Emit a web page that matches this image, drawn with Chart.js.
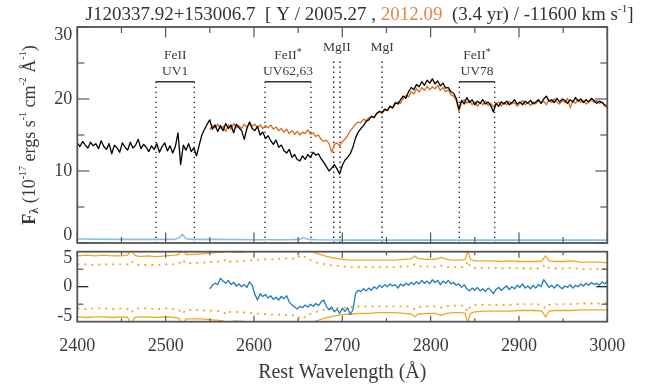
<!DOCTYPE html>
<html>
<head>
<meta charset="utf-8">
<script src="https://cdn.jsdelivr.net/npm/chart.js@4.4.1/dist/chart.umd.min.js"></script>
<style>
  html, body { margin: 0; padding: 0; background: #fff; }
  #wrap { position: relative; width: 650px; height: 386px; overflow: hidden; }
  #wrap canvas { position: absolute; left: 0; }
  #specCanvas { top: 0; }
  #diffCanvas { top: 247px; }
</style>
</head>
<body>
<div id="wrap">
  <canvas id="specCanvas" width="650" height="247" style="width:650px;height:247px"></canvas>
  <canvas id="diffCanvas" width="650" height="139" style="width:650px;height:139px"></canvas>
</div>
<script>
// ---- spectra: 2005.27 epoch (black), sampled every 3 A from 2400 A ----
const fluxStart2005 = 2400, fluxStep = 3;
const flux2005 = [
  13.9,13.4,14.1,13.6,13.2,14.0,13.5,13.8,13.1,14.2,
  13.4,13.0,13.8,12.4,13.6,13.2,12.6,13.9,13.3,12.9,
  14.0,13.2,13.6,14.4,13.1,13.7,13.3,12.7,13.5,13.0,
  13.8,12.6,13.4,13.9,12.8,13.5,12.5,13.4,15.3,10.9,
  13.6,12.9,13.8,12.7,13.2,12.1,13.6,15.0,15.8,16.5,
  17.1,15.8,16.4,15.5,16.3,15.6,16.6,15.9,16.4,15.3,
  16.5,16.0,15.6,14.4,15.9,16.8,15.9,15.6,16.2,15.0,
  15.4,14.5,14.9,14.2,13.7,14.3,13.3,13.6,12.8,12.5,
  13.0,11.9,12.3,11.6,11.4,12.1,11.6,12.3,11.9,12.6,
  12.2,12.4,11.7,11.2,10.6,10.0,10.4,10.9,10.3,9.6,
  10.8,11.5,11.9,12.4,13.3,14.6,15.4,15.9,16.3,16.9,
  17.1,17.6,17.4,18.0,18.3,18.1,18.6,18.4,19.0,18.8,
  19.5,19.3,19.9,20.4,20.1,21.0,21.6,21.3,22.0,21.7,
  22.4,21.9,22.6,22.2,22.8,22.1,22.5,21.8,22.2,21.5,
  21.6,21.0,20.8,20.1,18.6,19.8,19.3,20.2,19.5,19.9,
  19.2,19.7,19.4,19.9,19.3,19.6,19.1,18.2,19.4,19.0,
  19.6,19.3,19.7,19.2,19.5,19.9,19.3,19.6,19.2,19.7,
  19.4,19.8,19.3,19.6,19.9,19.4,20.0,20.4,19.7,19.9,
  19.5,20.1,19.6,20.0,19.8,19.4,19.9,19.6,20.2,19.7,
  20.0,19.5,19.9,19.6,20.1,19.8,19.4,19.7,19.5,19.2,
  19.0
];

// ---- 2012.09 epoch (orange), every 3 A from 2550 A ----
const fluxStart2012 = 2550;
const flux2012 = [
  15.7,16.3,16.0,16.5,15.9,16.2,15.5,16.4,15.8,16.6,
  16.0,16.3,15.9,16.5,16.1,16.7,16.2,16.5,16.0,16.4,
  15.9,16.3,16.0,16.4,15.8,16.1,15.6,15.9,15.4,15.8,
  15.2,15.6,15.1,15.5,15.0,15.4,15.2,15.7,15.1,15.3,
  14.8,15.0,14.4,14.1,14.3,13.8,12.6,13.7,13.9,13.5,
  14.1,14.4,14.9,15.6,16.0,16.5,16.8,16.7,17.2,17.0,
  17.4,17.6,17.5,18.0,18.2,18.0,18.5,18.4,18.9,18.7,
  19.3,19.6,19.4,20.1,20.5,20.3,21.0,20.7,21.4,21.0,
  21.6,21.2,21.8,21.3,21.7,21.4,21.9,21.2,21.6,21.0,
  21.3,20.6,20.4,19.8,18.3,19.5,19.9,19.4,19.8,19.2,
  19.6,19.0,19.5,19.2,19.7,19.1,19.4,18.9,19.3,19.6,
  19.0,19.5,19.2,19.7,19.3,19.5,19.0,19.4,19.8,19.2,
  19.5,19.1,19.6,19.3,19.8,19.4,19.7,19.2,19.9,19.5,
  20.0,19.6,19.3,19.8,19.5,20.1,18.8,19.7,19.4,19.9,
  19.5,19.8,19.3,19.6,19.9,19.5,19.8,19.4,19.6,19.0,
  18.8
];

// ---- flux error near zero (light blue) ----
const errWave = [2400,2450,2500,2510,2515,2519,2523,2530,2560,2600,2640,2652,2656,2660,2670,2720,2800,2900,3000];
const errFlux = [0.55,0.5,0.5,0.5,0.7,1.2,0.6,0.5,0.5,0.45,0.45,0.5,0.75,0.5,0.45,0.4,0.4,0.4,0.4];

// ---- difference spectrum (blue), every 3 A from 2550 A ----
const diffStart = 2550;
const diffFlux = [
  -0.3,0.2,0.5,0.3,1.2,0.8,0.5,0.9,0.3,0.6,
  0.1,0.4,0.0,0.3,-0.1,0.7,0.2,-1.1,-1.9,-1.0,
  -1.4,-1.1,-1.6,-1.3,-1.8,-1.5,-1.9,-1.4,-1.7,-1.3,
  -2.2,-2.6,-2.9,-3.2,-2.8,-3.0,-2.6,-2.9,-2.5,-2.8,
  -2.4,-2.7,-2.2,-1.9,-2.8,-3.3,-2.9,-3.6,-3.2,-3.8,
  -3.1,-3.5,-3.0,-4.0,-3.3,-1.0,-0.5,-0.7,-0.3,-0.6,
  -0.2,-0.5,0.0,-0.3,0.2,-0.1,0.3,0.0,0.4,0.1,
  0.3,-0.2,0.4,0.1,0.5,0.2,0.6,0.3,0.7,0.4,
  0.9,0.5,0.8,0.4,1.0,0.6,0.9,0.3,0.8,0.5,
  0.9,0.4,0.6,0.2,0.4,-0.1,0.3,-0.3,-0.6,-0.2,
  -0.5,-0.1,-0.6,-0.3,-0.7,-0.2,-0.5,-1.0,-0.4,-0.1,
  -0.5,-0.2,0.1,-0.4,0.0,-0.3,0.2,-0.1,0.4,-0.2,
  0.1,-0.3,0.2,-0.2,0.3,0.0,1.0,0.5,-0.1,0.2,
  -0.2,0.3,0.0,-0.3,0.1,-0.1,0.3,-0.2,0.2,0.0,
  0.4,0.1,0.5,0.2,0.6,0.3,0.5,0.2,0.7,0.4,
  0.8
];

// ---- significance envelopes for the difference ----
const bandWave = [
  2400,2410,2420,2430,2440,2450,2457,2461,2465,2470,
  2480,2490,2500,2510,2515,2519,2523,2530,2540,2550,
  2560,2565,2569,2573,2580,2590,2600,2610,2620,2630,
  2640,2646,2650,2654,2658,2662,2670,2680,2690,2700,
  2710,2720,2730,2740,2750,2760,2770,2778,2782,2786,
  2795,2805,2812,2818,2825,2835,2839,2842,2845,2850,
  2860,2870,2880,2890,2900,2910,2920,2926,2930,2934,
  2940,2950,2960,2970,2980,2990,3000
];
const bandHi = [
  4.4,4.5,4.4,4.5,4.4,4.4,4.5,5.3,4.5,4.3,
  4.4,4.3,4.4,4.5,4.6,5.5,4.6,4.6,4.7,4.8,
  4.9,4.9,5.6,5.0,4.9,5.0,5.2,5.3,5.3,5.4,
  5.4,5.5,6.0,5.4,5.9,5.3,4.8,4.4,4.1,3.9,
  3.8,3.8,3.8,3.8,3.8,3.8,3.9,4.0,4.4,4.0,
  3.9,3.9,4.2,3.9,3.8,3.8,3.9,5.1,3.9,3.7,
  3.7,3.7,3.6,3.7,3.6,3.6,3.6,3.7,4.4,3.7,
  3.6,3.6,3.7,3.5,3.5,3.5,3.4
];
const bandHiDot = [
  3.2,3.2,3.1,3.2,3.2,3.2,3.2,3.7,3.2,3.1,
  3.1,3.1,3.2,3.2,3.3,3.9,3.3,3.4,3.4,3.5,
  3.6,3.6,4.0,3.6,3.6,3.7,3.8,3.9,3.9,4.0,
  4.0,4.0,4.4,4.0,4.3,3.9,3.5,3.2,3.0,2.9,
  2.8,2.8,2.8,2.8,2.8,2.8,2.9,2.9,3.2,2.9,
  2.9,2.8,3.0,2.8,2.8,2.8,2.8,3.7,2.8,2.7,
  2.7,2.7,2.6,2.7,2.6,2.6,2.6,2.7,3.2,2.7,
  2.6,2.6,2.7,2.5,2.5,2.5,2.5
];
const bandLoDot = [
  -3.1,-3.2,-3.1,-3.1,-3.2,-3.1,-3.2,-3.7,-3.2,-3.1,
  -3.1,-3.2,-3.1,-3.2,-3.3,-3.9,-3.3,-3.3,-3.4,-3.4,
  -3.5,-3.6,-4.0,-3.6,-3.6,-3.7,-3.8,-3.9,-4.0,-4.0,
  -4.1,-4.1,-4.5,-4.1,-4.4,-4.0,-3.6,-3.3,-3.1,-3.0,
  -2.9,-2.8,-2.8,-2.8,-2.8,-2.8,-2.8,-2.9,-3.2,-2.9,
  -2.8,-2.8,-3.0,-2.8,-2.7,-2.7,-2.8,-3.6,-2.8,-2.6,
  -2.6,-2.6,-2.6,-2.6,-2.5,-2.5,-2.5,-2.6,-3.1,-2.6,
  -2.5,-2.5,-2.5,-2.4,-2.4,-2.4,-2.4
];
const bandLo = [
  -4.3,-4.4,-4.3,-4.3,-4.4,-4.3,-4.4,-5.3,-4.4,-4.3,
  -4.3,-4.4,-4.3,-4.4,-4.5,-5.5,-4.6,-4.6,-4.6,-4.7,
  -4.8,-4.9,-5.6,-5.0,-4.9,-5.0,-5.2,-5.3,-5.4,-5.4,
  -5.5,-5.5,-6.0,-5.5,-6.0,-5.4,-4.9,-4.5,-4.2,-4.0,
  -3.9,-3.8,-3.8,-3.7,-3.7,-3.7,-3.8,-3.9,-4.3,-3.9,
  -3.8,-3.8,-4.1,-3.8,-3.7,-3.7,-3.8,-5.1,-3.8,-3.6,
  -3.5,-3.5,-3.5,-3.5,-3.4,-3.4,-3.4,-3.5,-4.3,-3.5,
  -3.4,-3.4,-3.4,-3.3,-3.3,-3.3,-3.3
];

// ---- absorption-line markers ----
const troughNames = [['FeII', 'UV1'], ['FeII*', 'UV62,63'], ['FeII*', 'UV78']];
const troughEdges = [[2489, 2532.5], [2612.5, 2664.5], [2832.5, 2872.5]];
const troughLevel = 22.4;
const lineNames = ['MgII', 'MgI'];
const lineWaves = [[2690.3, 2697.4], [2745]];
const lineTop = 25.2;

// ---- axis ticks ----
const xRange = [2400, 3000];
const fluxTicks = [0, 10, 20, 30];
const diffTicks = [-5, 0, 5];

const title = { name: 'J120337.92+153006.7', epoch1: '2005.27', epoch2: '2012.09', gap: '3.4 yr', velocity: '-11600' };

// ---------------------------------------------------------------
const SERIF = "'Liberation Serif', 'Times New Roman', Times, serif";
const TEXT = '#3a3a3a';
const FRAME = '#555555';
const ORANGE = '#d96a1c';
const BAND = '#f3a526';
const BLUE = '#1b7bc0';

const sampled = (start, vals) => vals.map((v, i) => ({ x: start + i * fluxStep, y: v }));
const paired = (xs, ys) => xs.map((x, i) => ({ x: x, y: ys[i] }));

function strokeLine(ctx, x1, y1, x2, y2) {
  ctx.beginPath(); ctx.moveTo(x1, y1); ctx.lineTo(x2, y2); ctx.stroke();
}

// draws a run of text pieces (sizes, weights, raised/lowered, colours)
function richText(ctx, parts, x, y, align) {
  let total = 0;
  parts.forEach(p => {
    ctx.font = (p.bold ? 'bold ' : '') + (p.size || 18) + 'px ' + SERIF;
    p.w = ctx.measureText(p.t).width;
    total += p.w;
  });
  let cx = align === 'center' ? x - total / 2 : x;
  ctx.textAlign = 'left';
  ctx.textBaseline = 'alphabetic';
  parts.forEach(p => {
    ctx.font = (p.bold ? 'bold ' : '') + (p.size || 18) + 'px ' + SERIF;
    ctx.fillStyle = p.color || TEXT;
    ctx.fillText(p.t, cx, y + (p.dy || 0));
    cx += p.w;
  });
  return total;
}

// inward tick marks on all four sides plus the frame
function drawFrame(ctx, a, xs, ys, xMajor, xMinor, yTicks) {
  ctx.strokeStyle = FRAME;
  ctx.lineWidth = 1.2;
  for (let w = xRange[0]; w <= xRange[1]; w += 50) {
    const px = xs.getPixelForValue(w);
    const len = w % 100 === 0 ? xMajor : xMinor;
    strokeLine(ctx, px, a.top, px, a.top + len);
    strokeLine(ctx, px, a.bottom, px, a.bottom - len);
  }
  yTicks.forEach(t => {
    const py = ys.getPixelForValue(t.v);
    ctx.strokeStyle = t.color || FRAME;
    strokeLine(ctx, a.left, py, a.left + t.len, py);
    strokeLine(ctx, a.right, py, a.right - t.len, py);
  });
  ctx.strokeStyle = FRAME;
  ctx.lineWidth = 1.8;
  ctx.strokeRect(a.left, a.top, a.right - a.left, a.bottom - a.top);
}

const specDecor = {
  id: 'specDecor',
  afterDraw(chart) {
    const { ctx, chartArea: a, scales: { x, y } } = chart;
    ctx.save();
    const yt = [];
    for (let v = 0; v <= 30; v += 5) yt.push({ v: v, len: v % 10 === 0 ? 12 : 7 });
    drawFrame(ctx, a, x, y, 10.5, 6, yt);

    // trough labels above the brackets
    const by = y.getPixelForValue(troughLevel);
    troughNames.forEach((nm, i) => {
      const cx = x.getPixelForValue((troughEdges[i][0] + troughEdges[i][1]) / 2);
      const star = nm[0].endsWith('*');
      const parts = [{ t: star ? nm[0].slice(0, -1) : nm[0], size: 13.5 }];
      if (star) parts.push({ t: '*', size: 10, dy: -4 });
      richText(ctx, parts, cx, by - 23, 'center');
      richText(ctx, [{ t: nm[1], size: 13.5 }], cx, by - 6.5, 'center');
    });
    const ly = y.getPixelForValue(lineTop);
    lineNames.forEach((nm, i) => {
      const ws = lineWaves[i];
      const cx = x.getPixelForValue(ws.reduce((s, w) => s + w, 0) / ws.length);
      richText(ctx, [{ t: nm, size: 13.5 }], cx, ly - 10.5, 'center');
    });

    // plot title
    richText(ctx, [
      { t: title.name + '  [ Y / ' + title.epoch1 + ' , ', size: 19, color: '#333' },
      { t: title.epoch2, size: 19, color: '#e3874a' },
      { t: '  (' + title.gap + ') / ' + title.velocity + ' km s', size: 19, color: '#333' },
      { t: '-1', size: 11, dy: -8, color: '#333' },
      { t: ']', size: 19, color: '#333' }
    ], 359.5, 20, 'center');

    // flux-axis title
    ctx.translate(35, (a.top + a.bottom) / 2);
    ctx.rotate(-Math.PI / 2);
    richText(ctx, [
      { t: 'F', bold: true },
      { t: 'λ', bold: true, size: 12, dy: 3 },
      { t: ' (10' },
      { t: '-17', size: 10, dy: -9 },
      { t: ' ergs s' },
      { t: '-1', size: 10, dy: -9 },
      { t: ' cm' },
      { t: '-2', size: 10, dy: -9 },
      { t: ' Å' },
      { t: '-1', size: 10, dy: -9 },
      { t: ')' }
    ], 0, 0, 'center');
    ctx.restore();
  }
};

const diffDecor = {
  id: 'diffDecor',
  afterDraw(chart) {
    const { ctx, chartArea: a, scales: { x, y } } = chart;
    ctx.save();
    drawFrame(ctx, a, x, y, 6, 3.5, [
      { v: 2.5, len: 6 }, { v: -2.5, len: 6 }, { v: 0, len: 11, color: '#111' }
    ]);
    ctx.restore();
  }
};

// end labels sit just inside the frame: an empty line pushes them inward
function endLabel(value, lo, hi) {
  const s = String(value);
  if (value === hi) return ['', s];
  if (value === lo) return [s, ''];
  return s;
}
function endFont(ctx, lo, hi, shiftLo, shiftHi) {
  const v = ctx.tick ? ctx.tick.value : null;
  let lh = 1.2;
  if (v === hi) lh = (2 * shiftHi) + 'px';
  if (v === lo) lh = (2 * shiftLo) + 'px';
  return { family: SERIF, size: 18, lineHeight: lh };
}

const common = {
  responsive: false,
  animation: false,
  devicePixelRatio: 1,
  events: [],
  plugins: { legend: { display: false }, title: { display: false }, tooltip: { enabled: false } },
  elements: { point: { radius: 0 }, line: { tension: 0, borderJoinStyle: 'round' } }
};

// ---------------- upper panel: spectra ----------------
const specSets = [
  { data: sampled(fluxStart2005, flux2005), borderColor: '#000', borderWidth: 1.3 },
  { data: sampled(fluxStart2012, flux2012), borderColor: ORANGE, borderWidth: 1.3 },
  { data: paired(errWave, errFlux), borderColor: '#86bfe6', borderWidth: 1.6 }
];
troughEdges.forEach(e => {
  specSets.push({ data: [{ x: e[0], y: troughLevel }, { x: e[1], y: troughLevel }], borderColor: '#333', borderWidth: 1.5 });
  e.forEach(w => specSets.push({ data: [{ x: w, y: troughLevel }, { x: w, y: 0 }], borderColor: '#222', borderWidth: 1.4, borderDash: [1.4, 3.6] }));
});
lineWaves.forEach(ws => ws.forEach(w => specSets.push({ data: [{ x: w, y: lineTop }, { x: w, y: 0 }], borderColor: '#222', borderWidth: 1.4, borderDash: [1.4, 3.6] })));
specSets.forEach(d => { d.clip = 0; d.pointRadius = 0; d.fill = false; });

new Chart(document.getElementById('specCanvas'), {
  type: 'line',
  data: { datasets: specSets },
  options: Object.assign({}, common, {
    layout: { padding: { top: 27, right: 42.7, bottom: 4, left: 0 } },
    scales: {
      x: { type: 'linear', min: xRange[0], max: xRange[1], display: false },
      y: {
        type: 'linear', min: fluxTicks[0], max: fluxTicks[fluxTicks.length - 1],
        grid: { display: false, drawTicks: false }, border: { display: false },
        ticks: {
          stepSize: 10, padding: 5, color: TEXT,
          callback: v => endLabel(v, 0, 30),
          font: c => endFont(c, 0, 30, 8, 8)
        },
        afterFit: s => { s.width = 77.3; s.paddingTop = 0; s.paddingBottom = 0; }
      }
    }
  }),
  plugins: [specDecor]
});

// ---------------- lower panel: difference ----------------
const diffSets = [
  { data: sampled(diffStart, diffFlux), borderColor: BLUE, borderWidth: 1.3 },
  { data: paired(bandWave, bandHi), borderColor: BAND, borderWidth: 1.3 },
  { data: paired(bandWave, bandLo), borderColor: BAND, borderWidth: 1.3 },
  { data: paired(bandWave, bandHiDot), borderColor: BAND, borderWidth: 1.8, borderDash: [2, 5] },
  { data: paired(bandWave, bandLoDot), borderColor: BAND, borderWidth: 1.8, borderDash: [2, 5] }
];
diffSets.forEach(d => { d.clip = 0; d.pointRadius = 0; d.fill = false; });

new Chart(document.getElementById('diffCanvas'), {
  type: 'line',
  data: { datasets: diffSets },
  options: Object.assign({}, common, {
    layout: { padding: { top: 4.7, right: 42.7, bottom: 0, left: 0 } },
    scales: {
      x: {
        type: 'linear', position: 'bottom', min: xRange[0], max: xRange[1],
        grid: { display: false, drawTicks: false }, border: { display: false },
        ticks: {
          stepSize: 100, padding: 13.5, color: TEXT, maxRotation: 0, autoSkip: false,
          font: { family: SERIF, size: 18 },
          callback: v => String(v)
        },
        title: {
          display: true, text: 'Rest Wavelength (Å)', color: TEXT,
          font: { family: SERIF, size: 20 }, padding: { top: 0, bottom: 1 }
        },
        afterFit: s => { s.height = 64.3; s.paddingLeft = 0; s.paddingRight = 0; }
      },
      y: {
        type: 'linear', min: diffTicks[0], max: diffTicks[diffTicks.length - 1],
        grid: { display: false, drawTicks: false }, border: { display: false },
        ticks: {
          stepSize: 5, padding: 5, color: TEXT,
          callback: v => endLabel(v, -5, 5),
          font: c => endFont(c, -5, 5, 5, 6.3)
        },
        afterFit: s => { s.width = 77.3; s.paddingTop = 0; s.paddingBottom = 0; }
      }
    }
  }),
  plugins: [diffDecor]
});
</script>
</body>
</html>
